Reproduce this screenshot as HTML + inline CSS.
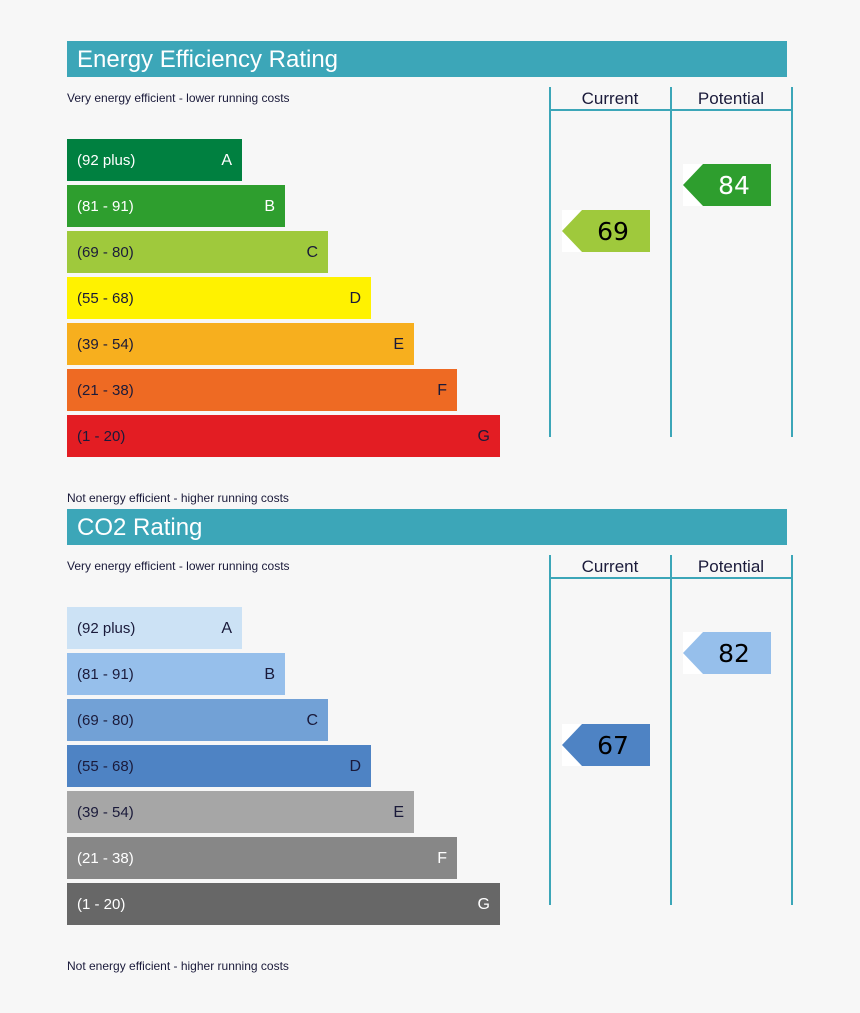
<!DOCTYPE html>
<html><head><meta charset="utf-8"><style>
body{margin:0;background:#f7f7f7;font-family:"Liberation Sans",sans-serif;}
svg{display:block}
</style></head><body>
<svg id="c" width="860" height="1013"></svg>
<script>
const bandLetters=["A","B","C","D","E","F","G"];
const bandRanges=["(92 plus)","(81 - 91)","(69 - 80)","(55 - 68)","(39 - 54)","(21 - 38)","(1 - 20)"];
const bandMins=[92,81,69,55,39,21,1];
const eeColors=["#008040","#2e9e2e","#9fc93c","#fff200","#f7af1e","#ee6a23","#e31d23"];
const eeText=["#fff","#fff","#1a1a3a","#1a1a3a","#1a1a3a","#1a1a3a","#1a1a3a"];
const co2Colors=["#cce2f5","#96bfeb","#72a1d6","#4e83c4","#a6a6a6","#878787","#676767"];
const co2Text=["#1a1a3a","#1a1a3a","#1a1a3a","#1a1a3a","#1a1a3a","#fff","#fff"];
const eeTitle="Energy Efficiency Rating", co2Title="CO2 Rating";
const eeCurrent=69, eePotential=84, co2Current=67, co2Potential=82;
const ns="http://www.w3.org/2000/svg", svg=document.getElementById('c');
function mk(t,a,p){const e=document.createElementNS(ns,t);for(const k in a)e.setAttribute(k,a[k]);(p||svg).appendChild(e);return e;}
function band(v){for(let i=0;i<bandMins.length;i++)if(v>=bandMins[i])return i;return 6;}
function section(oy,title,colors,txt,cur,pot,nm){
  const g=mk('g',{});
  
  
  const tb=mk('rect',{x:67,y:oy+41,width:720,height:36,fill:'#3ca6b8'},g);
  
  
  const tt=mk('text',{x:77,y:oy+67,fill:'#fff','font-size':24},g);tt.textContent=title;
  
  
  const s1=mk('text',{x:67,y:oy+102,fill:'#1a1a3a','font-size':12},g);s1.textContent="Very energy efficient - lower running costs";
  
  
  const s2=mk('text',{x:67,y:oy+502,fill:'#1a1a3a','font-size':12},g);s2.textContent="Not energy efficient - higher running costs";
  
  
  for(let i=0;i<7;i++){
    const y=oy+139+i*46,w=175+i*43;
    const r=mk('rect',{x:67,y:y,width:w,height:42,fill:colors[i]},g);
    
    
    const l=mk('text',{x:77,y:y+26,fill:txt[i],'font-size':15},g);l.textContent=bandRanges[i];
    
    
    const L=mk('text',{x:67+w-10,y:y+26,fill:txt[i],'font-size':16,'text-anchor':'end'},g);L.textContent=bandLetters[i];
    
    
  }
  [550,671,792].forEach(x=>{const ln=mk('line',{x1:x,y1:oy+87,x2:x,y2:oy+437,stroke:'#3ca6b8','stroke-width':2},g);
    
    });
  const hl=mk('line',{x1:550,y1:oy+110,x2:792,y2:oy+110,stroke:'#3ca6b8','stroke-width':2},g);
  
  
  [["Current",610],["Potential",731]].forEach(([t,x])=>{const h=mk('text',{x:x,y:oy+104,fill:'#1a1a3a','font-size':17,'text-anchor':'middle'},g);h.textContent=t;
    
    });
  [[cur,562,'current'],[pot,683,'potential']].forEach(([v,x,n])=>{
    const b=band(v),cy=oy+139+b*46,y=cy-21;
    const bg=mk('rect',{x:x,y:y,width:20,height:42,fill:'#fff'},g);
    
    
    const p=mk('polygon',{points:`${x},${cy} ${x+20},${y} ${x+88},${y} ${x+88},${y+42} ${x+20},${y+42}`,fill:colors[b]},g);
    
    
    const t=mk('text',{x:x+51,y:cy+9,fill:txt[b]=='#fff'?'#fff':'#000','font-size':25,'text-anchor':'middle',"font-family":"DejaVu Sans, sans-serif"},g);t.textContent=v;
    
    
  });
}
section(0,eeTitle,eeColors,eeText,eeCurrent,eePotential,'energy-efficiency');
section(468,co2Title,co2Colors,co2Text,co2Current,co2Potential,'co2');
</script>
</body></html>
